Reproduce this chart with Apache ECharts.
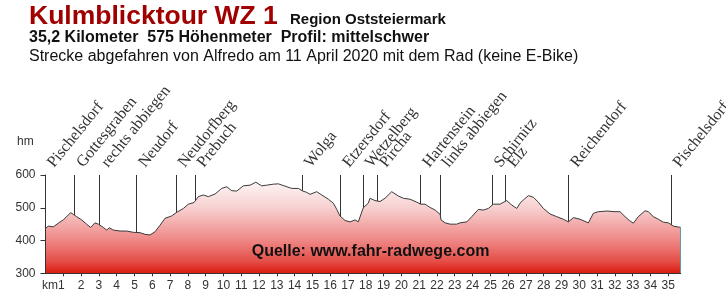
<!DOCTYPE html>
<html>
<head>
<meta charset="utf-8">
<script src="https://cdn.jsdelivr.net/npm/echarts@6/dist/echarts.min.js"></script>
<style>
html,body{margin:0;padding:0;background:#fff;}
#chart{width:726px;height:295px;}
</style>
</head>
<body>
<div id="chart"></div>
<script>
// Profile data: distance (km) and elevation (m)
const kmValues = [0.0,0.16,0.44,0.72,1.0,1.19,1.41,1.56,1.75,2.03,2.31,2.54,2.78,2.97,3.25,3.44,3.59,3.81,4.19,4.56,4.94,5.31,5.59,5.87,6.16,6.44,6.72,7.09,7.37,7.75,8.03,8.35,8.59,8.87,9.15,9.53,9.9,10.19,10.47,10.75,11.12,11.5,11.82,12.15,12.43,12.8,13.09,13.46,13.84,14.21,14.46,14.68,14.87,15.24,15.53,15.9,16.18,16.37,16.55,16.84,17.12,17.4,17.58,17.86,18.14,18.24,18.52,18.8,19.08,19.46,19.83,20.11,20.49,20.87,21.09,21.33,21.61,21.9,22.18,22.23,22.46,22.74,23.11,23.3,23.68,23.96,24.33,24.61,24.89,25.17,25.55,25.92,26.21,26.49,26.67,26.86,27.14,27.42,27.7,27.98,28.36,28.73,29.1,29.39,29.67,30.04,30.51,30.79,31.07,31.55,32.01,32.29,32.57,32.82,33.04,33.32,33.7,33.88,34.16,34.44,34.73,35.01,35.29,35.7];
const elevValues = [437,444,442,453,463,473,485,480,473,463,450,440,454,450,440,432,439,432,429,429,425,424,419,417,427,447,468,475,486,498,511,516,534,539,534,542,559,564,552,551,567,569,578,567,569,572,573,566,559,559,551,547,541,549,539,526,514,495,475,461,457,463,457,500,514,529,522,519,529,549,536,529,526,517,511,511,501,493,480,463,454,450,450,454,457,473,495,493,498,511,511,522,508,498,514,524,537,532,517,498,481,473,465,457,470,465,454,483,488,490,488,488,473,461,453,473,491,488,473,465,456,454,444,440];

// Waypoints along the route
const placeNames = ["Pischelsdorf","Gottesgraben","rechts abbiegen","Neudorf","Neudorfberg","Prebuch","Wolga","Etzersdorf","Wetzelberg","Pircha","Hartenstein","links abbiegen","Schirnitz","Elz","Reichendorf","Pischelsdorf"];
const placeKm = [0,1.64,3.03,5.12,7.35,8.42,14.44,16.59,17.86,18.67,21.09,22.19,25.11,25.87,29.41,35.16];

// Axis ranges / ticks
const yTicks = [300,400,500,600];
const kmMax = 35.7;

// Texts
const titleMain = "Kulmblicktour WZ 1";
const titleRegion = "Region Oststeiermark";
const subtitle1 = "35,2 Kilometer\u00a0\u00a0575 Höhenmeter\u00a0\u00a0Profil: mittelschwer";
const subtitle2 = "Strecke abgefahren von Alfredo am 11 April 2020 mit dem Rad (keine E-Bike)";
const sourceText = "Quelle: www.fahr-radwege.com";
const yUnit = "hm";

const SANS = '"Liberation Sans", Arial, Helvetica, sans-serif';
const SERIF = '"Liberation Serif", "Times New Roman", serif';

const chart = echarts.init(document.getElementById('chart'));
const profile = kmValues.map((k, i) => [k, elevValues[i]]);
const markers = placeKm.map((k, i) => [k, i]);
const lastKm = kmValues[kmValues.length - 1];
const lastElev = elevValues[elevValues.length - 1];

const option = {
  animation: false,
  backgroundColor: '#ffffff',
  grid: { left: 45.5, right: 45.3, top: 175, bottom: 21.7, containLabel: false },
  xAxis: {
    type: 'value', min: 0, max: kmMax, interval: 1, z: 10,
    axisLine: { show: true, lineStyle: { color: '#333', width: 1 } },
    axisTick: { show: true, length: 3, lineStyle: { color: '#333' } },
    splitLine: { show: false },
    axisLabel: {
      show: true, color: '#333', fontSize: 12, fontFamily: SANS, margin: 6,
      showMinLabel: false, showMaxLabel: false,
      formatter: function (v) {
        if (v === 1) return '{a|km1}';
        return Number.isInteger(v) ? String(v) : '';
      },
      rich: { a: { fontSize: 12, fontFamily: SANS, color: '#333', padding: [0, 20, 0, 0] } }
    }
  },
  yAxis: {
    type: 'value', min: yTicks[0], max: yTicks[yTicks.length - 1], interval: 100, z: 10,
    axisLine: { show: true, lineStyle: { color: '#333', width: 1 } },
    axisTick: { show: true, length: 5, lineStyle: { color: '#333' } },
    splitLine: { show: false },
    axisLabel: { color: '#333', fontSize: 12, fontFamily: SANS, margin: 10 }
  },
  graphic: [
    { type: 'text', x: 29, y: 16.5, z: 100, style: { text: titleMain, font: 'bold 26.5px ' + SANS, fill: '#a00000', verticalAlign: 'middle' } },
    { type: 'text', x: 290, y: 20, z: 100, style: { text: titleRegion, font: 'bold 15px ' + SANS, fill: '#111', verticalAlign: 'middle' } },
    { type: 'text', x: 29, y: 38, z: 100, style: { text: subtitle1, font: 'bold 16px ' + SANS, fill: '#111', verticalAlign: 'middle' } },
    { type: 'text', x: 29, y: 57, z: 100, style: { text: subtitle2, font: '16px ' + SANS, fill: '#111', verticalAlign: 'middle' } },
    { type: 'text', x: 17, y: 142, z: 100, style: { text: yUnit, font: '12px ' + SANS, fill: '#333', verticalAlign: 'middle' } },
    { type: 'text', x: 251.7, y: 251.5, z: 100, style: { text: sourceText, font: 'bold 16px ' + SANS, fill: '#111', verticalAlign: 'middle' } }
  ],
  series: [
    {
      type: 'custom', z: 1, silent: true, clip: false,
      data: markers,
      renderItem: function (params, api) {
        const k = api.value(0);
        const idx = api.value(1);
        const top = api.coord([k, yTicks[yTicks.length - 1]]);
        const bot = api.coord([k, yTicks[0]]);
        const x = Math.round(top[0] - 0.5) + 0.5;
        const ang = 51 * Math.PI / 180;
        return {
          type: 'group',
          children: [
            { type: 'line', shape: { x1: x, y1: top[1], x2: x, y2: bot[1] }, style: { stroke: '#333', lineWidth: 1 } },
            { type: 'text', x: top[0] + 11.5, y: top[1] - 4.5, rotation: ang,
              style: { text: placeNames[idx], font: '16px ' + SERIF, fill: '#333', align: 'left', verticalAlign: 'bottom' } }
          ]
        };
      }
    },
    {
      type: 'line', z: 2, data: profile, showSymbol: false, smooth: false, silent: true,
      lineStyle: { color: '#3a3a3a', width: 1 },
      areaStyle: {
        origin: 'start', opacity: 1,
        color: new echarts.graphic.LinearGradient(0, 175, 0, 273.3, [
          { offset: 0, color: '#ffffff' },
          { offset: 0.34, color: '#f7cfcf' },
          { offset: 0.67, color: '#ee8684' },
          { offset: 0.87, color: '#e5504a' },
          { offset: 1, color: '#dc1c10' }
        ], true)
      },
      markLine: {
        silent: true, symbol: ['none', 'none'], label: { show: false },
        lineStyle: { color: '#5f9ea6', width: 1, type: 'solid' },
        data: [[{ coord: [lastKm, lastElev] }, { coord: [lastKm, yTicks[0]] }]]
      }
    }
  ]
};
chart.setOption(option);
</script>
</body>
</html>
